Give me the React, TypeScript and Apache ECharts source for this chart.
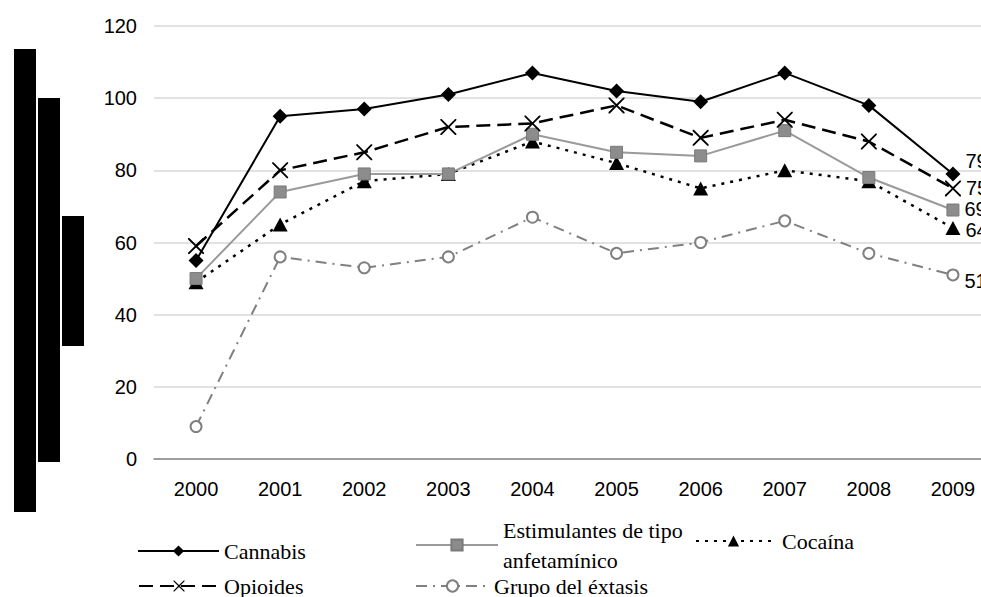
import { useEffect, useRef } from "react";
import * as echarts from "echarts";

// Years on the category axis
const years = ["2000", "2001", "2002", "2003", "2004", "2005", "2006", "2007", "2008", "2009"];

// Series values per year
const cannabis = [55, 95, 97, 101, 107, 102, 99, 107, 98, 79];
const estimulantes = [50, 74, 79, 79, 90, 85, 84, 91, 78, 69];
const cocaina = [49, 65, 77, 79, 88, 82, 75, 80, 77, 64];
const opioides = [59, 80, 85, 92, 93, 98, 89, 94, 88, 75];
const extasis = [9, 56, 53, 56, 67, 57, 60, 66, 57, 51];

// Value axis range
const yMin = 0;
const yMax = 120;
const yStep = 20;

const SANS = "'Liberation Sans', Arial, sans-serif";
const SERIF = "'Liberation Serif', 'Times New Roman', serif";

// The drawing surface is a little wider than the window, so the last
// labels run past the right edge.
const CHART_W = 1000;
const CHART_H = 597;

// Cross marker drawn as a filled outline
const crossSymbol =
  "path://M0,0L1.6,0L10,8.4L18.4,0L20,0L20,1.6L11.6,10L20,18.4L20,20L18.4,20L10,11.6L1.6,20L0,20L0,18.4L8.4,10L0,1.6Z";

// Only the final point carries its value label
function withEndLabel(values: number[], offsetY: number) {
  return values.map((v, i) =>
    i === values.length - 1
      ? {
          value: v,
          label: {
            show: true,
            position: "right",
            distance: 5,
            offset: [0, offsetY],
            formatter: "{c}",
            color: "#000",
            fontSize: 20,
            fontFamily: SANS,
          },
        }
      : v
  );
}

function legendAt(
  name: string,
  left: number,
  top: number,
  itemWidth: number,
  lineHeight = 24,
  textGap = 0
) {
  return {
    data: [name],
    left,
    top,
    orient: "horizontal",
    itemWidth,
    itemHeight: 14,
    padding: 0,
    selectedMode: false,
    textStyle: {
      fontFamily: SERIF,
      fontSize: 22,
      color: "#000",
      lineHeight,
      padding: [0, 0, 0, textGap],
    },
    formatter: (n: string) =>
      n === "Estimulantes de tipo anfetamínico" ? "Estimulantes de tipo\nanfetamínico" : n,
  };
}

export default function App() {
  const ref = useRef<HTMLDivElement>(null);

  useEffect(() => {
    if (!ref.current) return;
    const chart = echarts.init(ref.current, undefined, { renderer: "svg" });

    chart.setOption({
      animation: false,
      backgroundColor: "#fff",
      grid: { left: 154, right: CHART_W - 995, top: 26, bottom: 138, containLabel: false },
      xAxis: {
        type: "category",
        data: years,
        boundaryGap: true,
        axisTick: { show: false },
        axisLine: { show: true, lineStyle: { color: "#868686", width: 1.5 } },
        axisLabel: { color: "#000", fontSize: 20, fontFamily: SANS, margin: 20 },
      },
      yAxis: {
        type: "value",
        min: yMin,
        max: yMax,
        interval: yStep,
        axisLine: { show: false },
        axisTick: { show: false },
        axisLabel: { color: "#000", fontSize: 20, fontFamily: SANS, margin: 17 },
        splitLine: { lineStyle: { color: "#d9d9d9", width: 1.5 } },
      },
      legend: [
        legendAt("Cannabis", 137, 539, 81),
        legendAt("Estimulantes de tipo anfetamínico", 415, 515, 82, 30),
        legendAt("Cocaína", 695, 529, 75, 24, 6),
        legendAt("Opioides", 138, 574, 80),
        legendAt("Grupo del éxtasis", 415, 574, 73),
      ],
      series: [
        {
          name: "Grupo del éxtasis",
          type: "line",
          data: withEndLabel(extasis, 6),
          symbol: "emptyCircle",
          symbolSize: 11,
          lineStyle: { color: "#808080", width: 2, type: [11, 6, 2, 6] },
          itemStyle: { color: "#808080", borderColor: "#808080", borderWidth: 1.5 },
        },
        {
          name: "Cocaína",
          type: "line",
          data: withEndLabel(cocaina, 2),
          symbol: "triangle",
          symbolSize: [15, 14],
          lineStyle: { color: "#000", width: 2.5, type: [3, 6] },
          itemStyle: { color: "#000" },
        },
        {
          name: "Estimulantes de tipo anfetamínico",
          type: "line",
          data: withEndLabel(estimulantes, -1),
          symbol: "rect",
          symbolSize: 12,
          lineStyle: { color: "#9a9a9a", width: 2 },
          itemStyle: { color: "#8c8c8c", borderColor: "#7a7a7a", borderWidth: 1 },
        },
        {
          name: "Opioides",
          type: "line",
          data: withEndLabel(opioides, 0),
          symbol: crossSymbol,
          symbolSize: 16,
          lineStyle: { color: "#000", width: 2.5, type: [14, 7] },
          itemStyle: { color: "#000" },
        },
        {
          name: "Cannabis",
          type: "line",
          data: withEndLabel(cannabis, -13),
          symbol: "diamond",
          symbolSize: 15,
          lineStyle: { color: "#000", width: 2 },
          itemStyle: { color: "#000" },
        },
      ],
      graphic: [
        { type: "rect", shape: { x: 14, y: 49, width: 22, height: 463 }, style: { fill: "#000" } },
        { type: "rect", shape: { x: 38, y: 98, width: 22, height: 364 }, style: { fill: "#000" } },
        { type: "rect", shape: { x: 62, y: 216, width: 22, height: 130 }, style: { fill: "#000" } },
      ],
    });

    return () => chart.dispose();
  }, []);

  return (
    <div
      ref={ref}
      style={{
        position: "fixed",
        left: 0,
        top: 0,
        width: CHART_W,
        height: CHART_H,
        background: "#fff",
      }}
    />
  );
}
